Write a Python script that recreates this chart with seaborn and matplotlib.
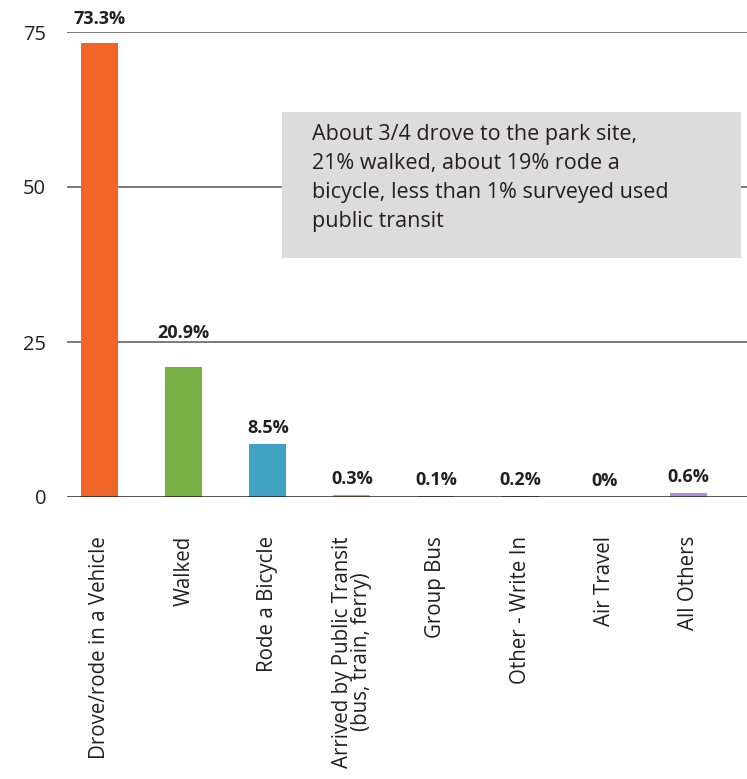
import pandas as pd
import matplotlib.pyplot as plt
import seaborn as sns
from matplotlib.patches import Rectangle

categories = [
    "Drove/rode in a Vehicle",
    "Walked",
    "Rode a Bicycle",
    "Arrived by Public Transit\n(bus, train, ferry)",
    "Group Bus",
    "Other - Write In",
    "Air Travel",
    "All Others",
]
percents = [73.3, 20.9, 8.5, 0.3, 0.1, 0.2, 0.0, 0.6]
value_labels = ["73.3%", "20.9%", "8.5%", "0.3%", "0.1%", "0.2%", "0%", "0.6%"]
bar_colors = ["#F26529", "#77B043", "#40A3C3", "#E8A13A", "#9B9B9B",
              "#5B7FC4", "#D9534F", "#B58BDB"]
note = ("About 3/4 drove to the park site,\n21% walked, about 19% rode a\n"
        "bicycle, less than 1% surveyed used\npublic transit")

df = pd.DataFrame({"mode": categories, "pct": percents})

sns.set_style("white")
plt.rcParams["font.family"] = ["Open Sans", "DejaVu Sans"]

fig = plt.figure(figsize=(7.47, 7.79), dpi=100)
ax = fig.add_axes([67 / 747, 282 / 779, 680 / 747, 465 / 779])

sns.barplot(data=df, x="mode", y="pct", hue="mode", palette=bar_colors,
            width=0.44, saturation=1, linewidth=0, legend=False, ax=ax,
            zorder=2)

ax.set_ylim(0, 75)
ax.set_xlim(-0.39, 7.7)
ax.set_yticks([0, 25, 50, 75])
for v in [25, 50, 75]:
    ax.axhline(v, color="#707070", lw=1.3, zorder=1)
ax.axhline(0, color="#231F20", lw=1.8, zorder=3)

for s in ax.spines.values():
    s.set_visible(False)
ax.set_xlabel("")
ax.set_ylabel("")
ax.tick_params(axis="y", length=0, pad=15, labelsize=14.5, labelcolor="#231F20")
ax.tick_params(axis="x", length=0, pad=28, labelsize=14.8, labelcolor="#231F20")
for t in ax.get_xticklabels():
    t.set_rotation(90)
    t.set_ha("center")
    t.set_multialignment("center")
    t.set_linespacing(0.9)

# value labels above bars (hand-placed offsets like the original)
pads = [15, 25, 7, 7, 7, 7, 7, 7]
bars = [p for c in ax.containers for p in c]
for bar, lab, pad in zip(bars, value_labels, pads):
    ax.annotate(lab, (bar.get_x() + bar.get_width() / 2, bar.get_height()),
                xytext=(0, pad * 0.72), textcoords="offset points",
                ha="center", va="bottom", fontsize=13, fontweight="bold",
                color="#231F20", annotation_clip=False)

# grey note box
fig.add_artist(Rectangle((282 / 747, 1 - 258 / 779), 459 / 747, 146 / 779,
                         transform=fig.transFigure, facecolor="#DCDCDD",
                         edgecolor="none", zorder=5))
fig.text(312 / 747, 1 - 124 / 779, note, ha="left", va="top", fontsize=15.5,
         linespacing=1.5, color="#231F20", zorder=6)

fig.savefig("out.png", dpi=100)
